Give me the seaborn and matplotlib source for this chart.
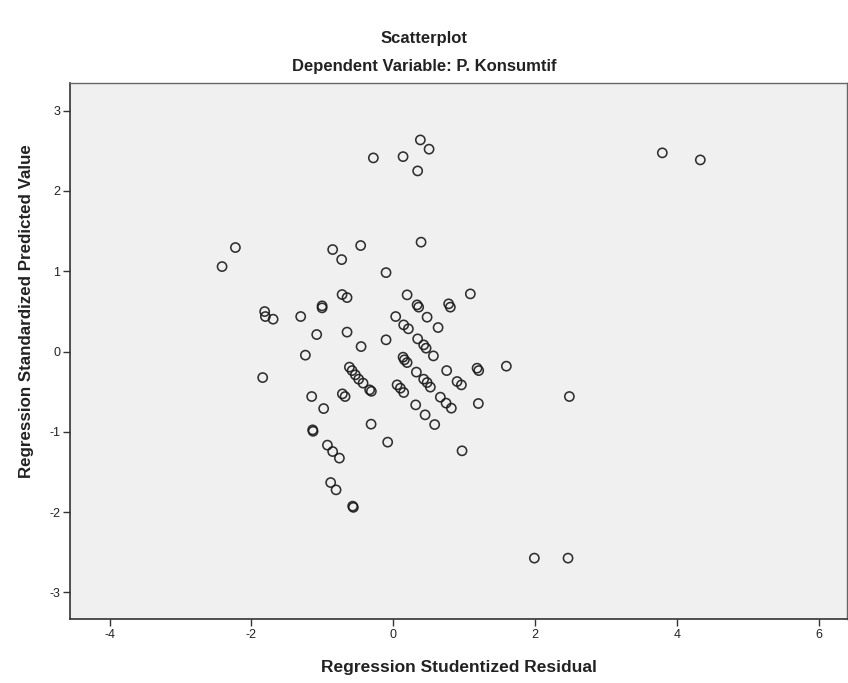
import matplotlib
matplotlib.use("Agg")
import matplotlib.pyplot as plt
import seaborn as sns
import pandas as pd

# Regression Studentized Residual (x) vs Regression Standardized Predicted Value (y)
residual = [
    -2.227, -2.415, -0.855, -0.728, -0.460, 0.392, -0.102, -0.722, -0.652, 0.195,
    0.336, 0.358, 0.477, -1.814, -1.804, -1.695, -1.306, -1.004, -1.004, 0.034,
    0.147, 0.213, -1.080, -0.652, -0.102, -0.454, -1.240, 0.344, 0.429, 0.463,
    0.138, 0.157, 0.195, 0.326, 0.429, 0.477, -1.842, -0.619, -0.581, -0.535,
    -0.488, -0.426, -0.333, 0.054, 0.100, 0.147, -1.151, -0.718, -0.680, -0.982,
    0.316, 0.449, 0.781, 0.805, 1.087, 0.632, 0.566, 0.523, 0.753, 1.182,
    1.205, 1.595, 0.900, 0.961, 0.664, 0.745, 0.819, 1.200, 0.584, -0.313,
    -0.079, 0.970, -0.309, -1.137, -1.131, -0.929, -0.855, -0.760, -0.883, -0.807,
    -0.573, -0.563, 2.484, 0.382, 0.505, 0.138, 0.344, -0.281, 3.795, 4.331,
    1.990, 2.465,
]
predicted = [
    1.295, 1.058, 1.270, 1.145, 1.320, 1.362, 0.983, 0.710, 0.672, 0.706,
    0.581, 0.553, 0.428, 0.498, 0.436, 0.403, 0.436, 0.569, 0.544, 0.436,
    0.332, 0.283, 0.212, 0.242, 0.146, 0.062, -0.045, 0.158, 0.083, 0.042,
    -0.070, -0.103, -0.137, -0.256, -0.344, -0.386, -0.324, -0.194, -0.237, -0.290,
    -0.344, -0.393, -0.477, -0.415, -0.456, -0.510, -0.560, -0.527, -0.560, -0.710,
    -0.664, -0.788, 0.594, 0.553, 0.718, 0.299, -0.054, -0.443, -0.237, -0.207,
    -0.237, -0.182, -0.373, -0.415, -0.568, -0.642, -0.705, -0.647, -0.909, -0.904,
    -1.128, -1.236, -0.495, -0.975, -0.993, -1.165, -1.245, -1.327, -1.631, -1.722,
    -1.925, -1.940, -0.560, 2.635, 2.520, 2.427, 2.249, 2.411, 2.474, 2.386,
    -2.572, -2.572,
]
x_ticks = [-4, -2, 0, 2, 4, 6]
y_ticks = [-3, -2, -1, 0, 1, 2, 3]

df = pd.DataFrame({"resid": residual, "pred": predicted})

sns.set_theme(style="ticks")
plt.rcParams["font.family"] = ["Liberation Sans", "DejaVu Sans"]
plt.rcParams["axes.unicode_minus"] = False

fig = plt.figure(figsize=(8.48, 6.83), dpi=100)
ax = fig.add_axes([70 / 848, 64 / 683, 777 / 848, 535.7 / 683])
ax.set_facecolor("#f0f0f0")

sns.scatterplot(data=df, x="resid", y="pred", ax=ax, marker="o", s=44,
                facecolor="none", edgecolor="#1a1a1a", linewidth=1.15, alpha=0.9)

ax.set_xlim(-4.56, 6.40)
ax.set_ylim(-3.33, 3.34)
ax.set_xticks(x_ticks)
ax.set_yticks(y_ticks)
ax.tick_params(direction="out", length=5, width=1, color="#333333",
               labelsize=9, labelcolor="#222222", pad=2)

for side in ["left", "bottom"]:
    ax.spines[side].set_color("#333333")
    ax.spines[side].set_linewidth(1.2)
for side in ["top", "right"]:
    ax.spines[side].set_visible(True)
    ax.spines[side].set_color("#666666")
    ax.spines[side].set_linewidth(1.0)

ax.set_xlabel("Regression Studentized Residual", fontsize=12.5, fontweight="bold",
              color="#222222", labelpad=14)
ax.set_ylabel("Regression Standardized Predicted Value", fontsize=12.2,
              fontweight="bold", color="#222222")
ax.yaxis.set_label_coords(-36 / 777, (619 - 311) / 535.7)

fig.text(424 / 848, 1 - 38 / 683, "Scatterplot", ha="center", va="center",
         fontsize=12, fontweight="bold", color="#222222")
fig.text(424 / 848, 1 - 67 / 683, "Dependent Variable: P. Konsumtif", ha="center",
         va="center", fontsize=12, fontweight="bold", color="#222222")

fig.savefig("out.png", dpi=100)
